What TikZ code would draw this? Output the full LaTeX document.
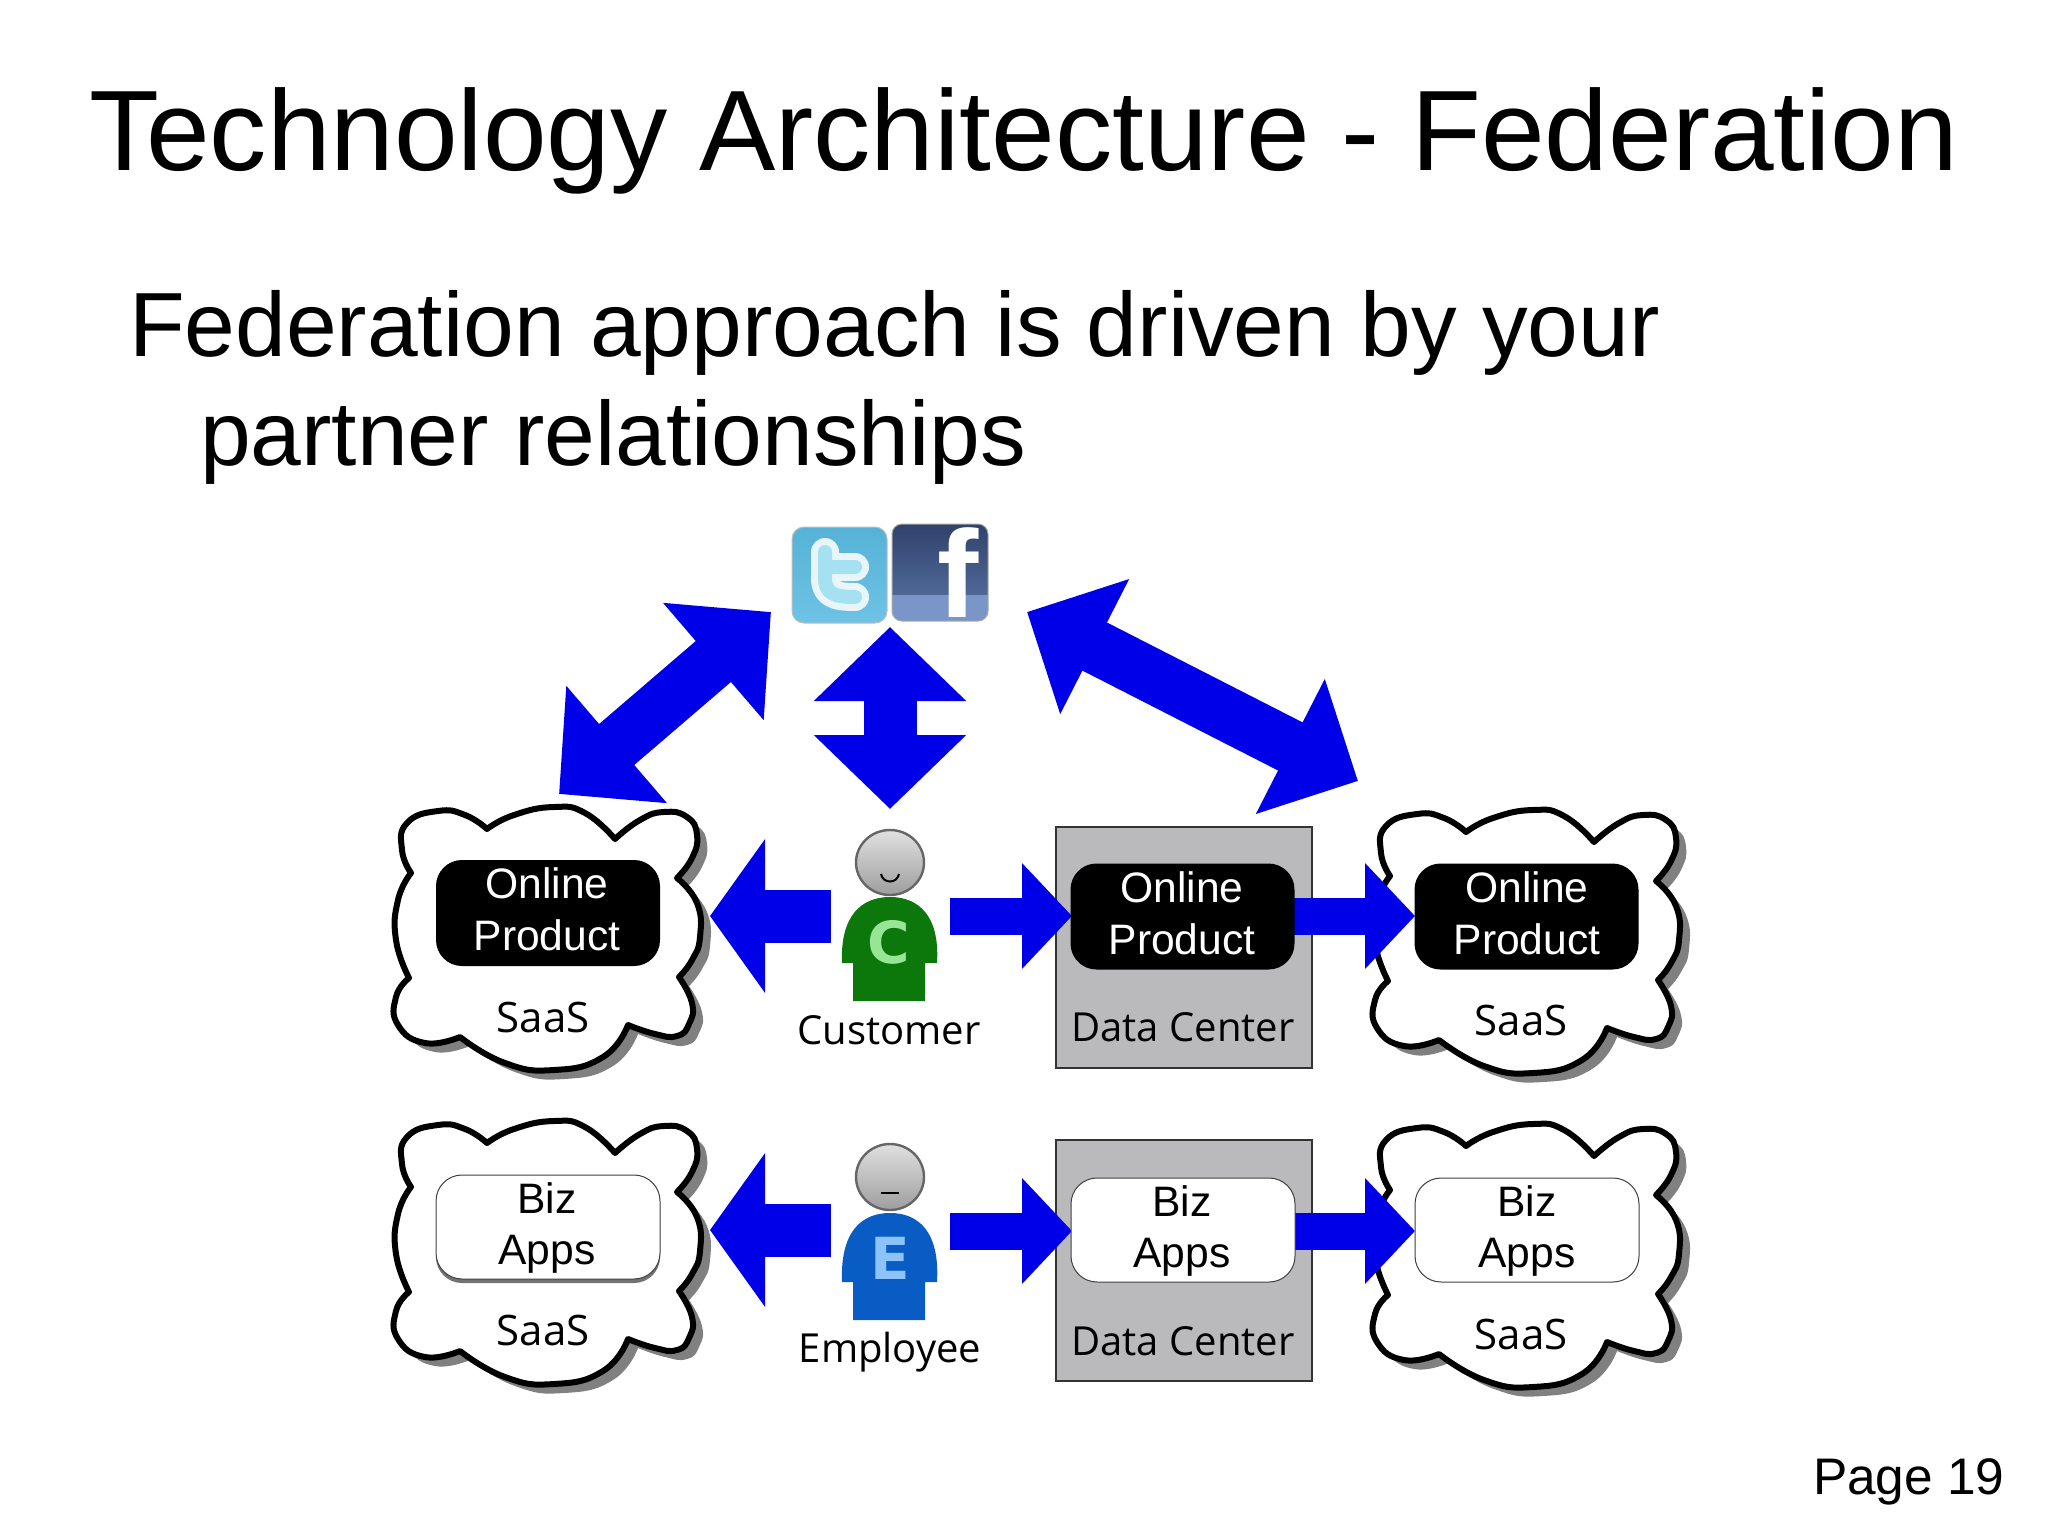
\documentclass[tikz,border=0pt]{standalone}
\usepackage{fontspec}
\setmainfont{Liberation Sans}
\newfontfamily\diagfont{Open Sans}
\newfontfamily\letterfont{DejaVu Sans}
\usetikzlibrary{arrows.meta,calc,shadings}
\definecolor{arrowblue}{RGB}{0,0,232}
\definecolor{dcgray}{RGB}{186,186,188}
\definecolor{cshirt}{RGB}{12,120,12}
\definecolor{eshirt}{RGB}{8,92,196}
\definecolor{cletter}{RGB}{150,230,150}
\definecolor{eletter}{RGB}{140,195,250}
\definecolor{twtop}{RGB}{85,178,215}
\definecolor{twbottom}{RGB}{110,195,230}
\definecolor{twstroke}{RGB}{232,246,250}
\definecolor{twinner}{RGB}{165,225,240}
\definecolor{fbtop}{RGB}{48,66,108}
\definecolor{fbmid}{RGB}{78,104,150}
\definecolor{fbband}{RGB}{122,150,200}
\tikzset{
  x=0.5pt,y=-0.5pt,
  slidetext/.style={anchor=base west,inner sep=0pt,outer sep=0pt,text=black},
  barrow/.style={draw=arrowblue,line width=#1},
  labeltext/.style={anchor=base,inner sep=0pt,font=\diagfont\fontsize{20}{24}\selectfont,text=black},
  saastext/.style={anchor=base,inner sep=0pt,font=\diagfont\fontsize{21}{24}\selectfont,text=black},
  boxtext/.style={anchor=base,inner sep=0pt,font=\fontsize{21.3}{24}\selectfont},
  darkbox/.style={fill=black,rounded corners=13pt,inner sep=0pt,minimum width=112pt,minimum height=53pt},
  lightbox/.style={fill=white,draw=black!75,line width=0.5pt,rounded corners=13pt,inner sep=0pt,minimum width=112pt,minimum height=52pt},
  dcbox/.style={fill=dcgray,draw=black!80,line width=1pt,inner sep=0pt,minimum width=128pt,minimum height=120.5pt},
  headshape/.style={draw=black!60,line width=1.2pt,top color=black!12,bottom color=black!38},
  cloudfigure/.pic={
    \def\cloudpath{
      plot[smooth,tension=0.85] coordinates {(411,873)(402,850)(407,823)(438,811)(465,815)(487,829)}
      -- plot[smooth,tension=0.85] coordinates {(487,829)(514,815)(554,807)(585,813)(615,839)}
      -- plot[smooth,tension=0.85] coordinates {(615,839)(640,820)(664,812)(687,817)(697,835)(692,858)(677,878)}
      -- plot[smooth,tension=0.85] coordinates {(677,878)(697,903)(700,937)(692,960)(679,977)}
      -- plot[smooth,tension=0.85] coordinates {(679,977)(692,1003)(689,1024)(677,1036)(655,1034)(628,1025)}
      -- plot[smooth,tension=0.85] coordinates {(628,1025)(603,1057)(554,1070)(505,1063)(460,1037)}
      -- plot[smooth,tension=0.85] coordinates {(460,1037)(425,1043)(398,1025)(396,997)(409,978)}
      -- plot[smooth,tension=0.85] coordinates {(409,978)(396,940)(398,900)(411,873)}
      -- cycle}
    \fill[black!50,shift={(10,9)}] \cloudpath;
    \draw[fill=white,draw=black,line width=3pt,line join=round] \cloudpath;
  },
}
\newcommand{\personbody}[4]{% colour, top y, shoulder y, bottom y
  \fill[#1] (842,#3) .. controls (840,{#2+18}) and (862,#2) .. (890,#2) .. controls (918,#2) and (940,{#2+18}) .. (937,#3) -- (925,#3) -- (925,#4) -- (853,#4) -- (853,#3) -- cycle;
}
\begin{document}
\begin{tikzpicture}
\useasboundingbox (0,0) rectangle (2048,1536);
\fill[white] (0,0) rectangle (2048,1536);
% slide text
\node[slidetext,font=\fontsize{57.2}{60}\selectfont] (title) at (89,170) {Technology Architecture - Federation};
\node[slidetext,font=\fontsize{45.6}{48}\selectfont] (line1) at (129,356) {Federation approach is driven by your};
\node[slidetext,font=\fontsize{45.6}{48}\selectfont] (line2) at (200,465) {partner relationships};
\node[slidetext,font=\fontsize{25.7}{30}\selectfont] (page) at (1813,1494) {Page 19};
% icons
\draw[draw=black!25,line width=0.5pt,rounded corners=6pt,top color=twtop,bottom color=twbottom] (792,527) rectangle (887,623);
\draw[twstroke,line width=14pt,line cap=round,line join=round] (825,552) -- (825,578) .. controls (825,594) and (835,597) .. (855,597) (825,567) -- (855,567);
\draw[twinner,line width=7pt,line cap=round,line join=round] (825,552) -- (825,578) .. controls (825,594) and (835,597) .. (855,597) (825,567) -- (855,567);
\begin{scope}
\clip[rounded corners=5pt] (892,524) rectangle (988,621);
\shade[top color=fbtop,bottom color=fbmid] (892,524) rectangle (988,595);
\fill[fbband] (892,595) rectangle (988,621);
\end{scope}
\draw[draw=black!35,line width=0.5pt,rounded corners=5pt] (892,524) rectangle (988,621);
\node[inner sep=0pt,anchor=base,text=white,font=\bfseries\fontsize{62}{64}\selectfont] (fb) at (958,617) {f};
% clouds
\foreach \dx/\dy in {0/0,979/3,0/314,979/317}{
  \pic at (\dx,\dy) {cloudfigure};
}
% data centres
\node[dcbox,anchor=north west] (dcA) at (1055,826) {};
\node[dcbox,anchor=north west] (dcB) at (1055,1139) {};
% anchors of the connectors
\coordinate (socialTop) at (890,627);
\coordinate (socialBottom) at (890,809);
\coordinate (diagA) at (1027,612);
\coordinate (diagB) at (1358,781);
\coordinate (diagC) at (771,612);
\coordinate (diagD) at (559,794);
\coordinate (custTail) at (831,916);
\coordinate (custTip) at (710,916);
\coordinate (custRTail) at (950,916);
\coordinate (custRTip) at (1072,916);
\coordinate (dcRTail) at (1290,916);
\coordinate (dcRTip) at (1415,916);
\coordinate (empTail) at (831,1230);
\coordinate (empTip) at (710,1230);
\coordinate (empRTail) at (950,1231);
\coordinate (empRTip) at (1072,1231);
\coordinate (dcLTail) at (1290,1231);
\coordinate (dcLTip) at (1415,1231);
% block arrows
\draw[barrow=26.5pt,{Triangle[length=37pt,width=74pt]}-{Triangle[length=37pt,width=74pt]}] (socialTop) -- (socialBottom);
\draw[barrow=27pt,{Triangle[length=38pt,width=73.5pt]}-{Triangle[length=38pt,width=73.5pt]}] (diagA) -- (diagB);
\draw[barrow=27pt,{Triangle[length=38pt,width=75pt]}-{Triangle[length=38pt,width=75pt]}] (diagC) -- (diagD);
\draw[barrow=26.5pt,-{Triangle[length=27.5pt,width=75.5pt]}] (custTail) -- (custTip);
\draw[barrow=26.5pt,-{Triangle[length=27.5pt,width=75.5pt]}] (empTail) -- (empTip);
\draw[barrow=18.5pt,-{Triangle[length=25pt,width=51.5pt]}] (custRTail) -- (custRTip);
\draw[barrow=18.5pt,-{Triangle[length=25pt,width=51.5pt]}] (empRTail) -- (empRTip);
\draw[barrow=18.5pt,-{Triangle[length=25pt,width=51.5pt]}] (dcRTail) -- (dcRTip);
\draw[barrow=18.5pt,-{Triangle[length=25pt,width=51.5pt]}] (dcLTail) -- (dcLTip);
% product boxes
\node[darkbox] (onlineL) at (548,913) {};
\node[darkbox] (onlineM) at (1182.5,916.5) {};
\node[darkbox] (onlineR) at (1526.5,916.5) {};
\fill[black!55,rounded corners=13pt] (436,1178) rectangle (660,1283);
\node[lightbox] (bizL) at (548,1227) {};
\node[lightbox] (bizM) at (1183,1230) {};
\node[lightbox] (bizR) at (1527,1230) {};
% box texts
\foreach \nm/\tx/\ty in {a/547/898,b/1182/902,c/1527/902}{
  \node[boxtext,text=white] (on\nm) at (\tx,\ty) {Online};
  \pgfmathsetmacro{\py}{\ty+52}
  \node[boxtext,text=white] (pr\nm) at (\tx,\py) {Product};
}
\foreach \nm/\tx/\ty in {a/547/1213,b/1182/1216,c/1527/1216}{
  \node[boxtext,text=black] (bz\nm) at (\tx,\ty) {Biz};
  \pgfmathsetmacro{\py}{\ty+51}
  \node[boxtext,text=black] (ap\nm) at (\tx,\py) {Apps};
}
% labels
\node[saastext] (saasA) at (543,1032) {SaaS};
\node[saastext] (saasB) at (1521,1035) {SaaS};
\node[saastext] (saasC) at (543,1345) {SaaS};
\node[saastext] (saasD) at (1521,1349) {SaaS};
\node[labeltext] (dcTextA) at (1183,1041) {Data Center};
\node[labeltext] (dcTextB) at (1183,1355) {Data Center};
\node[labeltext] (custLabel) at (889,1044) {Customer};
\node[labeltext] (empLabel) at (890,1362) {Employee};
% persons
\personbody{cshirt}{897}{963}{1001}
\draw[headshape] (890,862.5) ellipse (34 and 32.5);
\draw[black,line width=1pt] (881,874) .. controls (883,884) and (897,884) .. (899,874);
\node[inner sep=0pt,text=cletter,font=\letterfont\bfseries\fontsize{29}{30}\selectfont] (cLetter) at (889,942) {C};
\personbody{eshirt}{1213}{1282}{1320}
\draw[headshape] (890,1177) ellipse (34 and 33);
\draw[black,line width=1pt] (881,1193) -- (899,1193);
\node[inner sep=0pt,text=eletter,font=\letterfont\bfseries\fontsize{29}{30}\selectfont] (eLetter) at (890,1258) {E};
\end{tikzpicture}
\end{document}
